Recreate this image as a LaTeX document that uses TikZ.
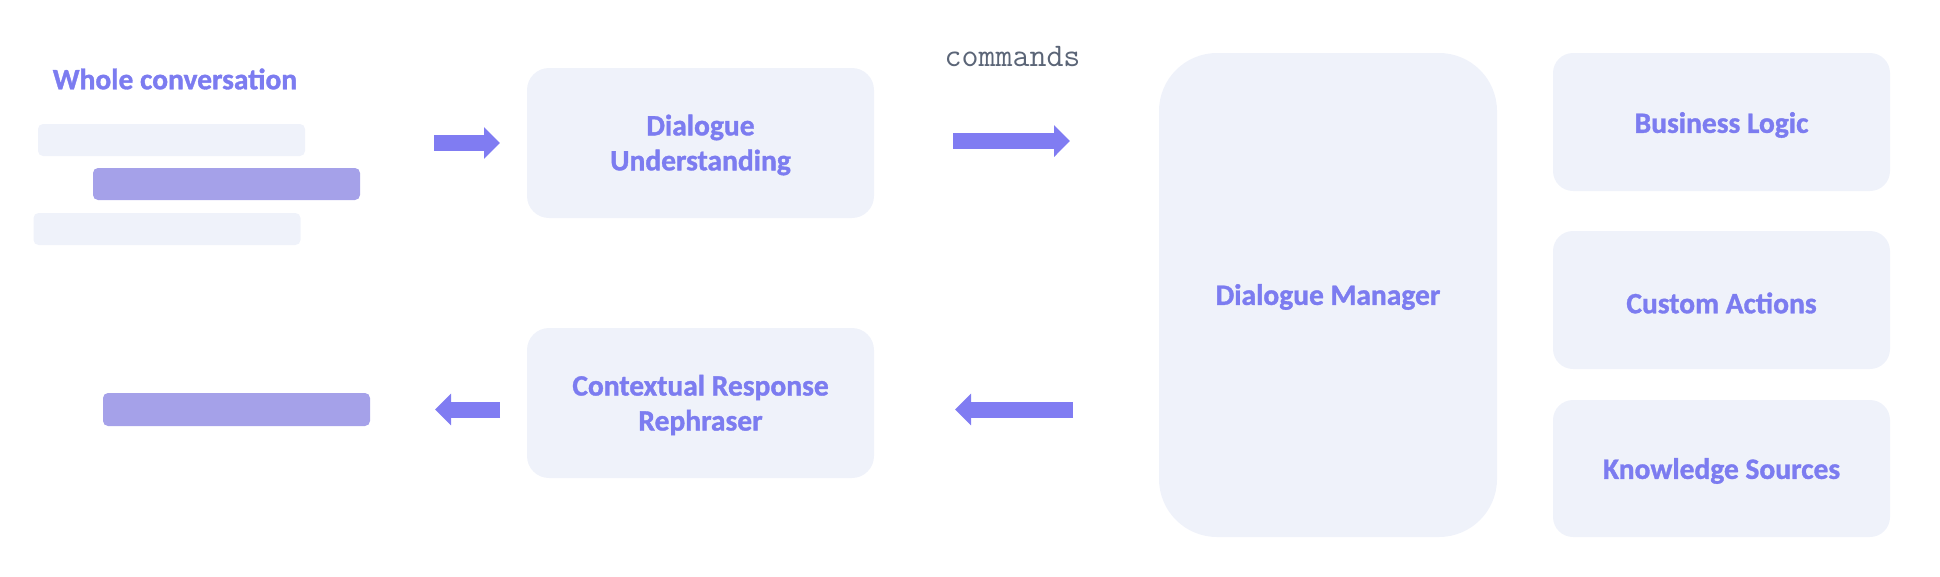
\documentclass[tikz,border=0pt]{standalone}
\usepackage{fontspec}
\setmainfont{Carlito}[BoldFeatures={FakeBold=1.2}]
\usetikzlibrary{arrows.meta}
\definecolor{boxfill}{HTML}{EFF2FA}
\definecolor{txt}{HTML}{7C7CF0}
\definecolor{arr}{HTML}{807CF2}
\definecolor{barp}{HTML}{A5A1E9}
\definecolor{cmd}{HTML}{5B6577}
\begin{document}
\begin{tikzpicture}[x=1pt,y=-1pt,
  lbl/.style={font=\fontsize{29.5}{35}\selectfont\bfseries, text=txt, align=center},
  panel/.style={fill=boxfill, draw=none, rounded corners=22pt, inner sep=0pt, lbl},
  barbox/.style={draw=none, rounded corners=5pt, inner sep=0pt, minimum height=32pt, minimum width=267pt},
  bigarrow/.style={draw=arr, line width=16pt, -{Triangle[length=16pt,width=31pt]}}
]
\useasboundingbox (0,0) rectangle (1940,576);

% left conversation
\node[lbl, inner sep=0pt] (whole) at (175,79) {Whole conversation};
\node[barbox, fill=boxfill] (bar1) at (171.5,140) {};
\node[barbox, fill=barp] (bar2) at (226.5,184) {};
\node[barbox, fill=boxfill] (bar3) at (167,229) {};
\node[barbox, fill=barp, minimum height=33pt] (bar4) at (236.5,409.5) {};

% middle panels
\node[panel, minimum width=347pt, minimum height=150pt] (du) at (700.5,143) {};
\node[lbl, inner sep=0pt] (dut) at (700.5,145) {Dialogue\\Understanding};
\node[panel, minimum width=347pt, minimum height=150pt] (crr) at (700.5,403) {};
\node[lbl, inner sep=0pt] (crrt) at (700.5,405) {Contextual Response\\Rephraser};

% dialogue manager
\node[panel, rounded corners=58pt, minimum width=338pt, minimum height=484pt] (dm) at (1328,295) {};
\node[lbl, inner sep=0pt] (dmt) at (1328,297) {Dialogue Manager};

% right panels
\node[panel, rounded corners=20pt, minimum width=337pt, minimum height=138pt] (bl) at (1721.5,122) {};
\node[lbl, inner sep=0pt] (blt) at (1721.5,125) {Business Logic};
\node[panel, rounded corners=20pt, minimum width=337pt, minimum height=138pt] (ca) at (1721.5,300) {};
\node[lbl, inner sep=0pt] (cat) at (1721.5,303) {Custom Actions};
\node[panel, rounded corners=20pt, minimum width=337pt, minimum height=137pt] (ks) at (1721.5,468.5) {};
\node[lbl, inner sep=0pt] (kst) at (1721.5,471) {Knowledge Sources};

% commands label
\node[font=\fontsize{33}{40}\selectfont\ttfamily, text=cmd, inner sep=0pt] (cmds) at (1012.5,57) {commands};

% arrows
\coordinate (a1s) at (434,143);
\coordinate (a1e) at (500,143);
\coordinate (a2s) at (953,141);
\coordinate (a2e) at (1070,141);
\coordinate (a3s) at (1073,409.5);
\coordinate (a3e) at (955,409.5);
\coordinate (a4s) at (500,409.5);
\coordinate (a4e) at (435,409.5);
\draw[bigarrow] (a1s) -- (a1e);
\draw[bigarrow] (a2s) -- (a2e);
\draw[bigarrow] (a3s) -- (a3e);
\draw[bigarrow] (a4s) -- (a4e);
\end{tikzpicture}
\end{document}
